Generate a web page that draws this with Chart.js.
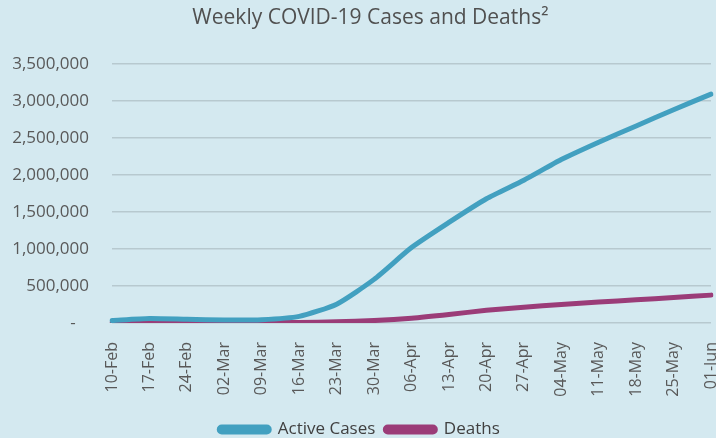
<!DOCTYPE html>
<html>
<head>
<meta charset="utf-8">
<script src="https://cdn.jsdelivr.net/npm/chart.js@4.4.1/dist/chart.umd.min.js"></script>
<style>
  html, body { margin: 0; padding: 0; background: #d4e9f0; }
  #wrap { width: 716px; height: 438px; }
</style>
</head>
<body>
<div id="wrap"><canvas id="grafico"></canvas></div>
<script>
const semanas = ["10-Feb", "17-Feb", "24-Feb", "02-Mar", "09-Mar", "16-Mar", "23-Mar", "30-Mar",
    "06-Apr", "13-Apr", "20-Apr", "27-Apr", "04-May", "11-May", "18-May", "25-May", "01-Jun"];

const casosActivos = [33000, 60000, 50000, 41000, 45000, 90000, 255000, 590000,
    1020000, 1360000, 1680000, 1930000, 2210000, 2445000, 2665000, 2885000, 3095000];

const muertes = [1000, 1800, 2700, 3100, 3900, 7000, 16000, 33000,
    65000, 115000, 172000, 213000, 250000, 283000, 314000, 345000, 377000];

const fuente = "'Open Sans', sans-serif";

const canva = document.getElementById("grafico");

new Chart(canva, {
    type: "line",
    data: {
        labels: semanas,
        datasets: [{
            label: "Active Cases",
            data: casosActivos,
            borderColor: "#42a0c0",
            backgroundColor: "#42a0c0",
            borderWidth: 5,
            pointRadius: 0,
            tension: 0.2,
            borderCapStyle: "round"
        }, {
            label: "Deaths",
            data: muertes,
            borderColor: "#9b3c78",
            backgroundColor: "#9b3c78",
            borderWidth: 5,
            pointRadius: 0,
            tension: 0.2,
            borderCapStyle: "round"
        }]
    },
    options: {
        responsive: true,
        maintainAspectRatio: false,
        animation: false,
        layout: { padding: { left: 8, right: 5, top: 0, bottom: -10 } },
        plugins: {
            title: {
                display: true,
                // espacios al inicio para correr el titulo un poco a la derecha
                text: "\u00a0\u00a0\u00a0\u00a0Weekly COVID-19 Cases and Deaths\u00b2",
                color: "#505050",
                font: { family: fuente, size: 21, weight: "normal" },
                padding: { top: 5, bottom: 34 }
            },
            legend: {
                position: "bottom",
                labels: {
                    color: "#404040",
                    font: { family: fuente, size: 17 },
                    boxWidth: 50,
                    boxHeight: 5,
                    useBorderRadius: true,
                    borderRadius: 2.5,
                    padding: 10
                }
            },
            tooltip: { enabled: false }
        },
        scales: {
            x: {
                offset: false,
                grid: { display: false },
                border: { display: false },
                afterFit: function(eje) {
                    eje.height = 88;
                    eje.paddingLeft = 0;
                    eje.paddingRight = 0;
                },
                ticks: {
                    color: "#595959",
                    font: { family: fuente, size: 16 },
                    maxRotation: 90,
                    minRotation: 90,
                    autoSkip: false,
                    padding: 11
                }
            },
            y: {
                min: 0,
                max: 3500000,
                grid: { color: "#b7c9cf", lineWidth: 1.5, drawTicks: false },
                border: { display: false },
                afterFit: function(eje) {
                    eje.width = 104;
                },
                ticks: {
                    stepSize: 500000,
                    color: "#595959",
                    font: { family: fuente, size: 17 },
                    padding: 23,
                    callback: function(valor) {
                        if (valor === 0) return "-\u00a0\u00a0\u00a0";
                        return valor.toLocaleString("en-US");
                    }
                }
            }
        }
    }
});
</script>
</body>
</html>
